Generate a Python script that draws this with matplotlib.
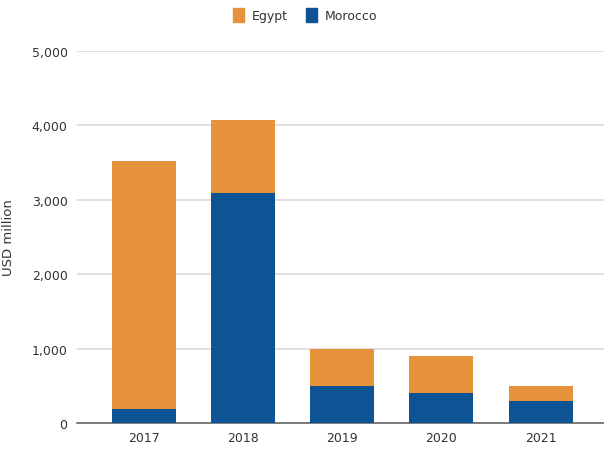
import matplotlib
matplotlib.use("Agg")
import matplotlib.pyplot as plt
from matplotlib.patches import Patch
from matplotlib.ticker import FuncFormatter

years = ["2017", "2018", "2019", "2020", "2021"]
morocco = [190, 3090, 500, 400, 300]
egypt = [3330, 980, 500, 500, 200]
yticks = [0, 1000, 2000, 3000, 4000, 5000]

c_egypt = "#E5923A"
c_morocco = "#0E5394"

plt.rcParams['font.family'] = ['DejaVu Sans']
fig = plt.figure(figsize=(6.04, 4.52), dpi=100)
ax = fig.add_axes([0.128, 0.062, 0.872, 0.823])

x = range(len(years))
ax.bar(x, morocco, width=0.645, color=c_morocco, zorder=3)
ax.bar(x, egypt, width=0.645, bottom=morocco, color=c_egypt, zorder=3)

ax.set_ylim(0, 5000)
ax.set_xlim(-0.67, 4.64)
ax.set_yticks(yticks)
ax.yaxis.set_major_formatter(FuncFormatter(lambda v, p: f"{int(v):,}"))
ax.set_xticks(list(x))
ax.set_xticklabels(years)
ax.grid(axis='y', color='#dddddd', linewidth=1.3, zorder=0)
for s in ['top', 'right', 'left']:
    ax.spines[s].set_visible(False)
ax.spines['bottom'].set_color('#666666')
ax.spines['bottom'].set_linewidth(1.2)
ax.tick_params(axis='y', length=0, pad=7, labelsize=9, colors='#333333')
ax.tick_params(axis='x', length=0, pad=6, labelsize=9, colors='#333333')
ax.set_ylabel("USD million", fontsize=9.5, color='#333333', labelpad=12)

handles = [Patch(color=c_egypt, label="Egypt"), Patch(color=c_morocco, label="Morocco")]
fig.legend(handles=handles, loc='upper center', bbox_to_anchor=(0.505, 1.005), ncol=2,
           frameon=False, fontsize=9, handlelength=0.9, handleheight=1.3,
           columnspacing=1.5, handletextpad=0.6, labelcolor='#333333')

fig.savefig("out.png", dpi=100)
